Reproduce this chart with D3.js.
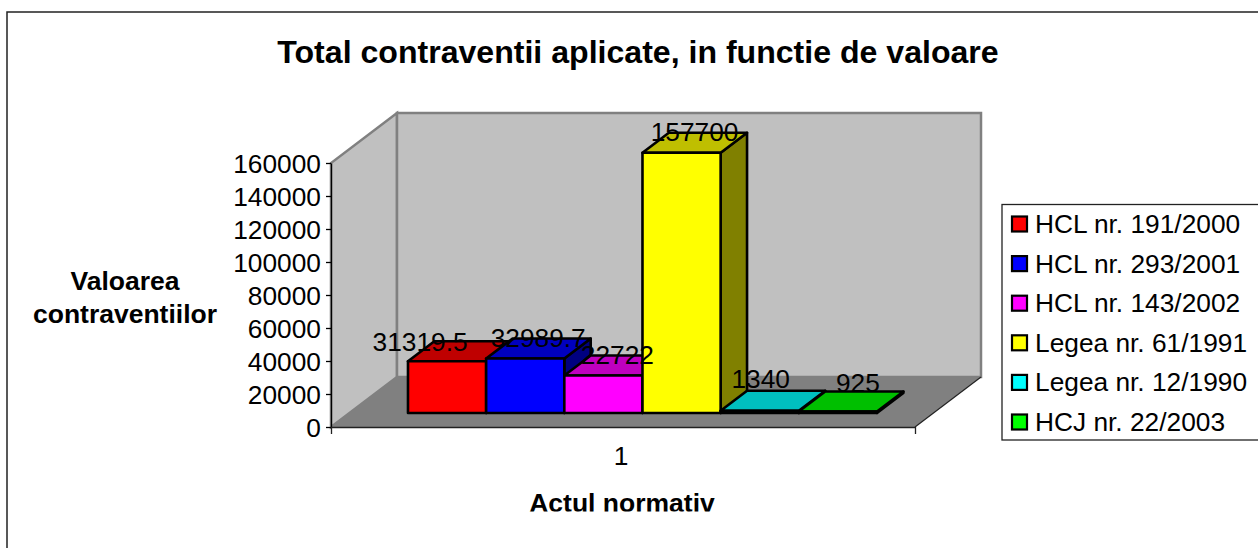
<!DOCTYPE html>
<html><head><meta charset="utf-8">
<script src="https://cdn.jsdelivr.net/npm/d3@7/dist/d3.min.js"></script>
<style>html,body{margin:0;padding:0;background:#fff;overflow:hidden}svg{display:block}text{font-family:"Liberation Sans",Arial,sans-serif;fill:#000}</style>
</head><body><svg id="c" width="1258" height="548"></svg>
<script>
const titleText = "Total contraventii aplicate, in functie de valoare";
const yTitleLines = ["Valoarea", "contraventiilor"];
const xTitle = "Actul normativ";
const categories = ["1"];
const seriesNames = ["HCL nr. 191/2000","HCL nr. 293/2001","HCL nr. 143/2002","Legea nr. 61/1991","Legea nr. 12/1990","HCJ nr. 22/2003"];
const seriesValues = [31319.5, 32989.7, 22722, 157700, 1340, 925];
const seriesLabels = ["31319.5","32989.7","22722","157700","1340","925"];
const seriesColors = ["#ff0000","#0000ff","#ff00ff","#ffff00","#00ffff","#00ff00"];
const yTicks = [0,20000,40000,60000,80000,100000,120000,140000,160000];
// hand placement of the data labels relative to the bar's top centre
const labelDx = [-27, 13, 14, 13, 1, 20];
const labelDy = [-10, -12, -12, -12, -23, -19];

const svg = d3.select("#c");
const y = d3.scaleLinear().domain([0,160000]).range([427,163]);
const xOuter = d3.scaleBand().domain(categories).range([331,915]);
const xBar = d3.scaleBand().domain(seriesNames).range([389.5,858.5]);
const depthX = 66, depthY = -50;
const P = (x,v,d) => [x + d*depthX, y(v) + d*depthY];
const poly = pts => pts.map(p=>p.join(",")).join(" ");
const shade = (c,f) => { const r=d3.rgb(c); return d3.rgb(r.r*f,r.g*f,r.b*f).formatHex(); };
const FS = 26.3, BFS = 26.5;

// frame
svg.append("rect").attr("x",7).attr("y",12).attr("width",1300).attr("height",600)
  .attr("fill","#fff").attr("stroke","#222").attr("stroke-width",1.5);

// title
svg.append("text").attr("x",638).attr("y",63).attr("text-anchor","middle")
  .attr("font-weight","bold").attr("font-size",32.1).text(titleText);

// walls and floor
const wallFill="#c0c0c0", grey="#808080";
svg.append("polygon").attr("points",poly([P(331,0,0),P(331,0,1),P(331,160000,1),P(331,160000,0)]))
  .attr("fill",wallFill).attr("stroke",grey).attr("stroke-width",2.5);
svg.append("polygon").attr("points",poly([P(331,0,1),P(915,0,1),P(915,160000,1),P(331,160000,1)]))
  .attr("fill",wallFill).attr("stroke",grey).attr("stroke-width",2.5);
svg.append("polygon").attr("points",poly([P(331,0,0),P(915,0,0),P(915,0,1),P(331,0,1)]))
  .attr("fill",grey).attr("stroke","none");
svg.append("line").attr("x1",915).attr("y1",427).attr("x2",P(915,0,1)[0]).attr("y2",P(915,0,1)[1])
  .attr("stroke","#222").attr("stroke-width",1.2);

// axes
const yAxis = d3.axisLeft(y).tickValues(yTicks).tickFormat(d3.format("d")).tickSize(5).tickSizeOuter(0).tickPadding(5);
const gy = svg.append("g").attr("transform","translate(331,0)").call(yAxis);
gy.selectAll("path,line").attr("stroke","#000").attr("stroke-width",1.3);
gy.selectAll("text").attr("font-size",FS).attr("font-family",'"Liberation Sans"').attr("dy","0.36em");
const xAxis = d3.axisBottom(xOuter).tickSizeInner(0).tickSizeOuter(7).tickPadding(19);
const gx = svg.append("g").attr("transform","translate(0,427)").call(xAxis);
gx.selectAll("path").attr("stroke","#222").attr("stroke-width",1.3);
gx.selectAll("text").attr("font-size",FS).attr("font-family",'"Liberation Sans"').attr("dx",-2);

// bars, 3-D box drawn left to right
const d0 = 14/50, d1 = 34/50;
seriesNames.forEach((name,i)=>{
  const x0=xBar(name), x1=x0+xBar.bandwidth(), v=seriesValues[i], c=seriesColors[i];
  const g=svg.append("g").attr("stroke","#000").attr("stroke-width",2.6).attr("stroke-linejoin","round");
  g.append("polygon").attr("points",poly([P(x1,0,d0),P(x1,0,d1),P(x1,v,d1),P(x1,v,d0)])).attr("fill",shade(c,0.5));
  g.append("polygon").attr("points",poly([P(x0,v,d0),P(x1,v,d0),P(x1,v,d1),P(x0,v,d1)])).attr("fill",shade(c,0.75));
  g.append("polygon").attr("points",poly([P(x0,0,d0),P(x1,0,d0),P(x1,v,d0),P(x0,v,d0)])).attr("fill",c);
});
// data labels
seriesNames.forEach((name,i)=>{
  const p=P(xBar(name)+xBar.bandwidth()/2,seriesValues[i],d0);
  svg.append("text").attr("x",p[0]+labelDx[i]).attr("y",p[1]+labelDy[i]).attr("text-anchor","middle")
    .attr("font-size",FS).text(seriesLabels[i]);
});

// axis titles
yTitleLines.forEach((t,i)=>svg.append("text").attr("x",125).attr("y",290+i*32.5).attr("text-anchor","middle")
  .attr("font-weight","bold").attr("font-size",BFS).text(t));
svg.append("clipPath").attr("id","xt").append("rect").attr("x",0).attr("y",480).attr("width",1258).attr("height",31.5);
svg.append("g").attr("clip-path","url(#xt)").append("text").attr("x",622).attr("y",512).attr("text-anchor","middle")
  .attr("font-weight","bold").attr("font-size",BFS).text(xTitle);

// legend
svg.append("rect").attr("x",1002).attr("y",204.5).attr("width",300).attr("height",235.5)
  .attr("fill","#fff").attr("stroke","#222").attr("stroke-width",1.3);
const ly=d3.scalePoint().domain(seriesNames).range([224,422]);
seriesNames.forEach((name,i)=>{
  svg.append("rect").attr("x",1012).attr("y",ly(name)-7.5).attr("width",15).attr("height",15)
    .attr("fill",seriesColors[i]).attr("stroke","#000").attr("stroke-width",2.2);
  svg.append("text").attr("x",1035).attr("y",ly(name)+9).attr("font-size",FS).text(name);
});
</script></body></html>
